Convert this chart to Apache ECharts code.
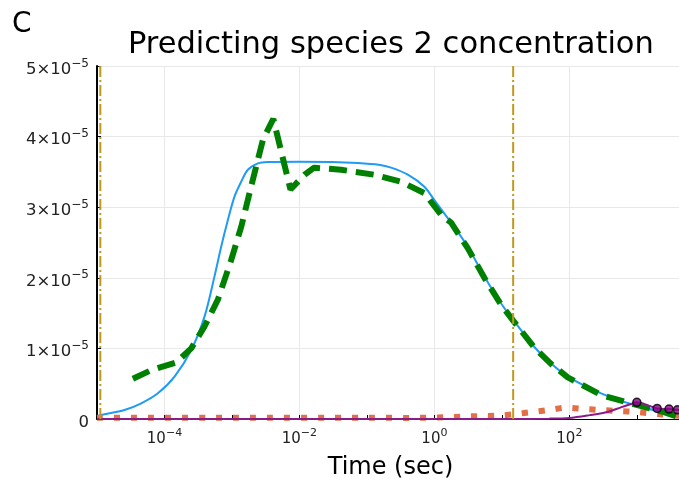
<!DOCTYPE html>
<html>
<head>
<meta charset="utf-8">
<script src="https://cdn.jsdelivr.net/npm/echarts@6/dist/echarts.min.js"></script>
<style>
  html, body { margin: 0; padding: 0; background: #fff; }
  #chart { width: 679px; height: 480px; }
</style>
</head>
<body>
<div id="chart"></div>
<script>
// ---- Data (time in seconds, concentration in units of 1e-5) ----
const UNIT = 1e-5;
const Y_MAX = 5; // top of y axis, ×1e-5

// Solid blue curve
const blueT = [1e-5, 1.15e-5, 2.55e-5, 4.52e-5, 7.98e-5, 1.41e-4, 2.49e-4, 3.92e-4, 5.51e-4, 6.92e-4, 8.7e-4, 1.09e-3, 1.37e-3, 1.72e-3, 2.42e-3, 3.4e-3, 0.01, 0.03, 0.073, 0.15, 0.228, 0.404, 0.711, 1.0, 1.77, 3.12, 5.5, 9.7, 14.8, 30.3, 53.5, 94.7, 295, 918, 2870, 5000];
const blueV = [0.04, 0.057, 0.127, 0.222, 0.364, 0.599, 0.977, 1.45, 2.02, 2.44, 2.82, 3.15, 3.36, 3.53, 3.62, 3.64, 3.645, 3.64, 3.625, 3.60, 3.56, 3.46, 3.29, 3.10, 2.78, 2.44, 2.02, 1.64, 1.40, 1.02, 0.79, 0.60, 0.364, 0.198, 0.08, 0.03];

// Thick green dashed curve
const greenT = [3.4e-5, 6.3e-5, 1.49e-4, 2.49e-4, 3.92e-4, 6.18e-4, 9.73e-4, 1.37e-3, 1.92e-3, 2.42e-3, 2.87e-3, 3.5e-3, 4.1e-3, 7.36e-3, 0.0119, 0.0165, 0.0415, 0.129, 0.321, 0.71, 1.26, 1.77, 3.12, 5.5, 9.7, 14.8, 30.3, 53.5, 94.7, 295, 814, 2460, 5000];
const greenV = [0.57, 0.69, 0.80, 1.0, 1.31, 1.69, 2.25, 2.72, 3.29, 3.67, 3.95, 4.12, 4.25, 3.25, 3.46, 3.56, 3.53, 3.46, 3.36, 3.20, 2.89, 2.78, 2.42, 2.0, 1.62, 1.39, 1.01, 0.78, 0.59, 0.34, 0.22, 0.10, 0.0];

// Orange dotted curve
const orangeT = [1e-5, 1e-3, 0.1, 0.45, 0.83, 1.5, 2.6, 4.9, 8.7, 16.2, 28.6, 50, 90, 165, 295, 540, 1000, 2000, 5000];
const orangeV = [0.018, 0.018, 0.018, 0.015, 0.02, 0.025, 0.033, 0.042, 0.047, 0.07, 0.10, 0.127, 0.16, 0.142, 0.127, 0.113, 0.10, 0.07, 0.04];

// Purple solid curve
const purpleT = [1e-5, 10, 50, 100, 200, 370, 580, 870, 1000, 2000, 3000, 4000, 5000];
const purpleV = [0, 0, 0.005, 0.015, 0.055, 0.10, 0.165, 0.22, 0.237, 0.15, 0.14, 0.13, 0.125];

// Measured points
const pointsT = [1000, 2000, 3000, 4000];
const pointsV = [0.237, 0.15, 0.14, 0.13];

// Vertical dash-dot reference lines (time)
const vlineT = [1.12e-5, 14.7];

const pairs = (ts, vs) => ts.map((t, i) => [t, vs[i] * UNIT]);

const FONT = 'DejaVu Sans';
const chart = echarts.init(document.getElementById('chart'), null, { renderer: 'canvas' });

const vlineSeries = vlineT.map((t, i) => ({
  name: 'vline' + i,
  type: 'line',
  data: [[t, 0], [t, Y_MAX * UNIT]],
  showSymbol: false,
  silent: true,
  lineStyle: { color: '#C09A1C', width: 2, type: [11, 3, 2, 3], cap: 'butt' },
  z: 7
}));

const option = {
  backgroundColor: '#ffffff',
  animation: false,
  title: {
    text: 'Predicting species 2 concentration',
    left: 123,
    top: 25,
    textStyle: { fontFamily: FONT, fontSize: 30.5, fontWeight: 'normal', color: '#000' }
  },
  graphic: [{
    type: 'text',
    left: 12,
    top: 11,
    style: { text: 'C', font: '28px "DejaVu Sans"', fill: '#000' }
  }],
  grid: { left: 97, right: -5, top: 66, bottom: 61, containLabel: false, outerBoundsMode: 'none' },
  xAxis: {
    type: 'log',
    logBase: 10,
    min: 1e-5,
    max: 5000,
    name: 'Time (sec)',
    nameLocation: 'middle',
    nameGap: 37,
    nameTextStyle: { fontFamily: FONT, fontSize: 24, color: '#000' },
    axisLine: { show: true, onZero: false, lineStyle: { color: '#000', width: 1 } },
    axisTick: { show: true, inside: true, length: 4, lineStyle: { color: '#000', width: 1 } },
    splitLine: { show: true, lineStyle: { color: ['rgba(0,0,0,0)', '#e8e8e8'], width: 1 } },
    axisLabel: {
      margin: 6,
      formatter: function (v) {
        const e = Math.log10(v);
        const r = Math.round(e);
        if (Math.abs(e - r) > 1e-6 || r % 2 !== 0) return '';
        const exp = (r < 0 ? '\u2212' : '') + Math.abs(r);
        return '{b|10}{s|' + exp + '}';
      },
      rich: {
        b: { fontFamily: FONT, fontSize: 15, color: '#222', padding: [7, 0, 0, 0] },
        s: { fontFamily: FONT, fontSize: 11, color: '#222', padding: [0, 0, 5, 0] }
      }
    }
  },
  yAxis: {
    type: 'value',
    min: 0,
    max: Y_MAX * UNIT,
    interval: UNIT,
    axisLine: { show: true, lineStyle: { color: '#000', width: 2 } },
    axisTick: { show: true, inside: true, length: 4, lineStyle: { color: '#000', width: 1 } },
    splitLine: { show: true, lineStyle: { color: '#e8e8e8', width: 1 } },
    axisLabel: {
      margin: 8,
      formatter: function (v) {
        const n = Math.round(v / UNIT);
        if (n === 0) return '{b|0}';
        return '{b|' + n + '×10}{s|\u22125}';
      },
      rich: {
        b: { fontFamily: FONT, fontSize: 16.5, color: '#222', padding: [7, 0, 0, 0] },
        s: { fontFamily: FONT, fontSize: 12, color: '#222', padding: [0, 0, 5, 0] }
      }
    }
  },
  series: [
    {
      name: 'model',
      type: 'line',
      data: pairs(blueT, blueV),
      smooth: 0.3,
      showSymbol: false,
      lineStyle: { color: '#1E9BF5', width: 2 },
      z: 2
    },
    {
      name: 'orange',
      type: 'line',
      data: pairs(orangeT, orangeV),
      smooth: 0.3,
      showSymbol: false,
      lineStyle: { color: '#E36F47', width: 6, type: [6, 11], cap: 'butt' },
      z: 3
    },
    {
      name: 'green',
      type: 'line',
      data: pairs(greenT, greenV),
      smooth: false,
      showSymbol: false,
      lineStyle: { color: '#008000', width: 6, type: [18, 9], cap: 'butt' },
      z: 4
    },
    {
      name: 'purple',
      type: 'line',
      data: pairs(purpleT, purpleV),
      smooth: 0.3,
      showSymbol: false,
      lineStyle: { color: '#8B1A8B', width: 2 },
      z: 5
    },
    ...vlineSeries,
    {
      name: 'data',
      type: 'scatter',
      data: pairs(pointsT, pointsV),
      symbol: 'circle',
      symbolSize: 8,
      itemStyle: { color: '#8B008B', borderColor: '#000', borderWidth: 1.5 },
      z: 6
    }
  ]
};
chart.setOption(option);
</script>
</body>
</html>
